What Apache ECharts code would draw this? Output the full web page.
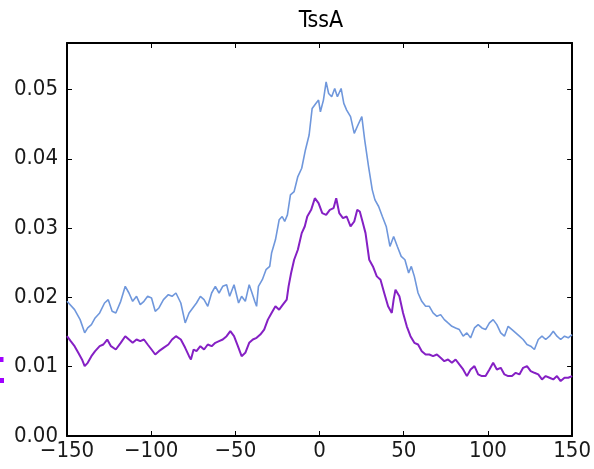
<!DOCTYPE html>
<html>
<head>
<meta charset="utf-8">
<script src="https://cdn.jsdelivr.net/npm/echarts@6/dist/echarts.min.js"></script>
<style>
html,body{margin:0;padding:0;background:#fff;}
#chart{width:594px;height:469px;}
</style>
</head>
<body>
<div id="chart"></div>
<script>
var chartTitle = 'TssA';
var xTicks = [-150, -100, -50, 0, 50, 100, 150];
var yTicks = [0.00, 0.01, 0.02, 0.03, 0.04, 0.05];

var blueX = [-150,-145.5,-142.2,-139.5,-137.7,-135.5,-133.3,-130.6,-127.7,-125.5,-123.2,-121.0,-118.1,-115.4,-113.2,-111.0,-108.7,-106.5,-104.3,-102.1,-99.8,-97.6,-95.4,-92.7,-89.8,-87.6,-85.3,-82.4,-79.8,-77.5,-75.3,-73.1,-70.8,-68.6,-66.4,-64.1,-61.9,-59.7,-57.5,-55.2,-53.4,-50.8,-48.1,-46.3,-44.1,-41.8,-40.1,-38.5,-37.4,-36.3,-34.0,-31.8,-29.6,-28.5,-26.2,-24.0,-22.2,-20.7,-19.1,-17.3,-15.1,-12.9,-10.6,-8.4,-6.2,-4.4,-2.2,-0.6,0.5,2.3,3.9,5.4,7.2,9.0,10.6,12.8,14.4,16.1,18.4,20.6,22.8,25.1,26.8,29.1,31.3,32.9,35.1,37.3,39.6,41.8,44.0,46.2,48.5,50.7,52.9,54.5,56.3,58.5,60.7,63.0,65.2,67.4,69.7,71.9,74.1,76.3,78.6,80.8,83.0,85.3,87.5,89.7,92.0,94.2,96.4,98.6,100.9,103.1,105.3,107.6,109.8,112.0,114.3,116.5,118.7,120.9,123.2,125.4,127.6,129.9,132.1,134.3,136.6,138.8,141.0,143.2,145.5,147.7,150];
var blueY = [0.01943,0.01823,0.01679,0.01488,0.01559,0.01607,0.01703,0.01775,0.01919,0.01967,0.01799,0.01775,0.01943,0.02159,0.02063,0.01943,0.02015,0.01895,0.01943,0.02015,0.01991,0.01799,0.01847,0.01967,0.02039,0.02015,0.02063,0.01919,0.01631,0.01775,0.01847,0.01919,0.02015,0.01967,0.01871,0.02063,0.02159,0.02063,0.02159,0.02183,0.02015,0.02183,0.01919,0.02015,0.01943,0.02183,0.02063,0.01943,0.01871,0.02159,0.02255,0.02399,0.02447,0.02639,0.02831,0.03119,0.03167,0.03095,0.03191,0.03479,0.03527,0.03743,0.03863,0.04127,0.04343,0.04726,0.04798,0.04846,0.04678,0.04846,0.05110,0.04942,0.04894,0.05014,0.04894,0.05014,0.04798,0.04702,0.04607,0.04367,0.04487,0.04607,0.04271,0.03887,0.03551,0.03407,0.03311,0.03167,0.03023,0.02735,0.02879,0.02735,0.02591,0.02543,0.02351,0.02447,0.02303,0.02063,0.01943,0.01871,0.01871,0.01775,0.01727,0.01751,0.01679,0.01631,0.01583,0.01559,0.01536,0.01440,0.01488,0.01416,0.01559,0.01607,0.01559,0.01536,0.01631,0.01679,0.01607,0.01488,0.01440,0.01583,0.01536,0.01488,0.01440,0.01392,0.01320,0.01296,0.01248,0.01392,0.01440,0.01392,0.01440,0.01512,0.01440,0.01392,0.01440,0.01416,0.01464];

var purpleX = [-150,-147.8,-145.5,-143.3,-141.1,-139.5,-137.7,-135.5,-133.3,-130.6,-128.4,-126.1,-123.9,-121.0,-118.1,-115.4,-113.2,-111.0,-108.7,-106.5,-104.3,-102.1,-99.8,-97.6,-95.4,-92.7,-89.8,-87.6,-85.3,-82.4,-79.8,-77.5,-76.4,-74.8,-73.1,-70.8,-68.6,-66.4,-64.1,-61.9,-59.7,-57.5,-55.2,-53.0,-50.8,-48.5,-46.3,-44.1,-41.8,-39.6,-37.4,-35.2,-32.9,-30.7,-28.5,-26.2,-24.0,-21.8,-19.5,-18.4,-16.9,-15.1,-12.9,-10.6,-8.8,-7.3,-5.0,-2.8,-0.6,1.6,3.9,6.1,8.3,9.9,11.7,13.9,16.1,18.4,20.6,22.4,23.9,25.5,27.3,29.5,31.7,34.0,36.2,38.4,40.7,42.9,44.0,45.1,47.4,49.6,51.8,54.0,56.3,58.5,60.7,63.0,65.2,67.4,69.7,71.9,74.1,76.3,78.6,80.8,83.0,85.3,87.5,89.7,92.0,94.2,96.4,98.6,100.9,103.1,105.3,107.6,109.8,112.0,114.3,116.5,118.7,120.9,123.2,125.4,127.6,129.9,132.1,134.3,136.6,138.8,141.0,143.2,145.5,147.7,150];
var purpleY = [0.01440,0.01368,0.01296,0.01200,0.01104,0.01008,0.01056,0.01152,0.01224,0.01296,0.01320,0.01392,0.01296,0.01248,0.01344,0.01440,0.01392,0.01344,0.01392,0.01368,0.01392,0.01320,0.01248,0.01176,0.01224,0.01272,0.01320,0.01392,0.01440,0.01392,0.01272,0.01152,0.01104,0.01248,0.01224,0.01296,0.01248,0.01320,0.01296,0.01344,0.01368,0.01392,0.01440,0.01512,0.01440,0.01296,0.01152,0.01200,0.01344,0.01392,0.01416,0.01464,0.01536,0.01679,0.01775,0.01871,0.01823,0.01895,0.01967,0.02159,0.02351,0.02543,0.02687,0.02927,0.03023,0.03167,0.03263,0.03431,0.03359,0.03215,0.03191,0.03263,0.03287,0.03431,0.03215,0.03143,0.03167,0.03023,0.03095,0.03263,0.03239,0.03095,0.02927,0.02543,0.02447,0.02303,0.02255,0.02063,0.01871,0.01775,0.01967,0.02111,0.02015,0.01775,0.01583,0.01440,0.01344,0.01320,0.01224,0.01176,0.01176,0.01152,0.01176,0.01128,0.01080,0.01104,0.01056,0.01104,0.01032,0.00960,0.00864,0.00960,0.01008,0.00888,0.00864,0.00864,0.00960,0.01056,0.00960,0.00984,0.00888,0.00864,0.00864,0.00912,0.00888,0.00984,0.01008,0.00936,0.00912,0.00888,0.00816,0.00864,0.00840,0.00816,0.00864,0.00792,0.00840,0.00840,0.00864];

function pairs(xs, ys) { return xs.map(function (x, i) { return [x, ys[i]]; }); }

var FONT = '"Liberation Sans Narrow", "DejaVu Sans Condensed", "Liberation Sans", sans-serif';
var chart = echarts.init(document.getElementById('chart'), null, {renderer: 'canvas'});
var frameLine = {show: true, onZero: false, lineStyle: {color: '#000', width: 2}};
var ticksIn = {show: true, inside: true, length: 5, lineStyle: {color: '#000', width: 1}};
chart.setOption({
  animation: false,
  backgroundColor: '#fff',
  title: {text: chartTitle, left: 316, textAlign: 'center', top: 5,
    textStyle: {fontFamily: FONT, fontSize: 23, fontWeight: 'normal', color: '#000'}},
  grid: {left: 67, right: 20, top: 43, bottom: 33, containLabel: false},
  xAxis: [{
    type: 'value', min: -150, max: 150, interval: 50, position: 'bottom',
    axisLine: frameLine, axisTick: ticksIn, splitLine: {show: false},
    axisLabel: {fontFamily: FONT, fontSize: 22, color: '#1a1a1a', margin: 4,
      formatter: function (v) { return xTicks.indexOf(v) >= 0 ? String(v).replace('-', '\u2212') : ''; }}
  }, {
    type: 'value', min: -150, max: 150, interval: 50, position: 'top',
    axisLine: frameLine, axisTick: ticksIn, axisLabel: {show: false}, splitLine: {show: false}
  }],
  yAxis: [{
    type: 'value', min: 0, max: 0.0567, interval: 0.01, position: 'left',
    axisLine: frameLine, axisTick: ticksIn, splitLine: {show: false},
    axisLabel: {fontFamily: FONT, fontSize: 22, color: '#1a1a1a', margin: 9, showMaxLabel: false,
      formatter: function (v) { return yTicks.some(function (t) { return Math.abs(t - v) < 1e-9; }) ? v.toFixed(2) : ''; }}
  }, {
    type: 'value', min: 0, max: 0.0567, interval: 0.01, position: 'right',
    axisLine: frameLine, axisTick: ticksIn, axisLabel: {show: false}, splitLine: {show: false}
  }],
  series: [{
    name: 'blue', type: 'line', showSymbol: false, symbol: 'none',
    data: pairs(blueX, blueY),
    lineStyle: {color: '#6f97dc', width: 1.6}, z: 3
  }, {
    name: 'purple', type: 'line', showSymbol: false, symbol: 'none',
    data: pairs(purpleX, purpleY),
    lineStyle: {color: '#8520c4', width: 2}, z: 4
  }],
  graphic: [
    {type: 'rect', shape: {x: 0, y: 357, width: 3.5, height: 5}, style: {fill: '#a000ff'}},
    {type: 'rect', shape: {x: 0, y: 378, width: 4, height: 5}, style: {fill: '#a000ff'}}
  ]
});
</script>
</body>
</html>
